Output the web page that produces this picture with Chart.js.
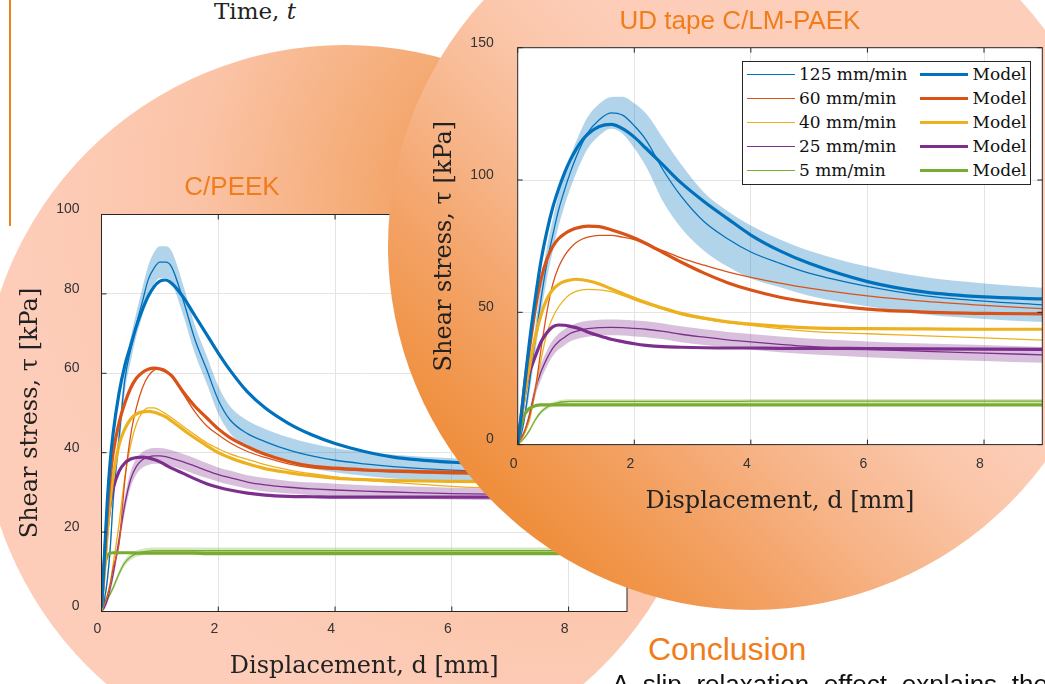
<!DOCTYPE html>
<html>
<head>
<meta charset="utf-8">
<script src="https://cdn.jsdelivr.net/npm/chart.js@4.4.1/dist/chart.umd.min.js"></script>
<style>
html, body { margin: 0; padding: 0; }
body { width: 1045px; height: 684px; position: relative; overflow: hidden; background: #fff; font-family: "Liberation Sans", Arial, sans-serif; }
.abs { position: absolute; }
#circL { left: -19px; top: 45px; width: 728px; height: 728px; border-radius: 50%; z-index: 1;
  background: radial-gradient(circle at 78% 22%, #f09142 0%, #f5ad79 25%, #fbc4a8 45%, #fdcdb9 65%); }
#circR { left: 388px; top: -118px; width: 728px; height: 728px; border-radius: 50%; z-index: 3;
  background: linear-gradient(45deg, #ec8430 0%, #ef8e3b 15%, #f3a163 27%, #f7b68b 38%, #fbc6aa 48%, #fdcdb8 56%, #fdd0bd 100%); }
#chartL { left: 0; top: 200px; z-index: 2; }
#chartR { left: 400px; top: 30px; z-index: 4; }
#bar { left: 9px; top: 0; width: 2px; height: 226px; background: #f07f1a; z-index: 5; }
.title { color: #ef7d1b; font-size: 26px; line-height: 26px; text-align: center; z-index: 5; white-space: nowrap; }
#time { left: 160px; top: 0; width: 190px; text-align: center; font-family: "DejaVu Serif", serif; font-size: 23px; line-height: 23px; color: #222; z-index: 5; }
#concl { left: 648px; top: 633px; font-size: 32px; line-height: 32px; color: #ef7d1b; z-index: 5; }
#body { left: 612px; top: 671px; width: 436px; font-size: 26px; line-height: 26px; color: #111; text-align: justify; text-align-last: justify; white-space: nowrap; z-index: 5; word-spacing: 6px; }
#legend { left: 742px; top: 61px; width: 289px; height: 124px; box-sizing: border-box; border: 1px solid #262626; background: #fff; z-index: 6; }
.lgLine { position: absolute; }
.lgText { position: absolute; font-family: "DejaVu Serif", serif; font-size: 17px; line-height: 17px; color: #111; white-space: nowrap; }
</style>
</head>
<body>
<div id="circL" class="abs"></div>
<canvas id="chartL" class="abs" width="640" height="484"></canvas>
<div id="circR" class="abs"></div>
<canvas id="chartR" class="abs" width="645" height="500"></canvas>
<div id="bar" class="abs"></div>
<div id="time" class="abs">Time, <i>t</i></div>
<div id="titleL" class="abs title" style="left:132px;top:173px;width:200px;">C/PEEK</div>
<div id="titleR" class="abs title" style="left:590px;top:7px;width:300px;">UD tape C/LM-PAEK</div>
<div id="legend" class="abs"></div>
<div id="concl" class="abs">Conclusion</div>
<div id="body" class="abs">A slip relaxation effect explains the</div>
<script>
// displacement grid shared by every curve [mm]
const dGrid = [0, 0.05, 0.1, 0.15, 0.2, 0.3, 0.4, 0.5, 0.6, 0.7, 0.8, 0.9, 1.0, 1.1, 1.2,
  1.4, 1.6, 1.8, 2.0, 2.2, 2.5, 2.8, 3.2, 3.6, 4.0, 4.5, 5.0, 6.0, 7.0, 8.0, 9.0];

const rateLabels = ['125 mm/min', '60 mm/min', '40 mm/min', '25 mm/min', '5 mm/min'];
const rateColors = ['#0072BD', '#D95319', '#EDB120', '#7E2F8E', '#77AC30'];
const bandColors = ['rgba(0,114,189,0.3)', null, null, 'rgba(126,47,142,0.3)', 'rgba(119,172,48,0.3)'];

// C/PEEK, shear stress [kPa]
const peekExp125 = [0, 3, 8, 16, 28, 43.5, 58.4, 66, 72.5, 78, 83.6, 86.5, 88, 88, 86.8,
  78.4, 68.5, 61, 53.3, 48.3, 44.8, 42.8, 40.7, 39.2, 38.1, 37.2, 36.5, 35.6, 35.2, 34.9, 34.7];
const peekModel125 = [1, 14, 28, 38, 45, 55, 62, 67, 72, 76, 79.4, 81.8, 83.2, 83.5, 82.7,
  79.2, 74.5, 69.8, 65.1, 60.8, 55.3, 51.3, 47.4, 44.5, 42.3, 40.3, 38.9, 37.6, 37, 36.7, 36.5];
const peekSpread125 = [0, 1, 1.5, 2, 2.5, 3, 3, 3, 3, 3.5, 3.5, 4, 4, 4, 4,
  3.8, 3.6, 3.5, 3.5, 3.4, 3.3, 3.2, 3.2, 3.1, 3, 3, 3, 3, 3, 3, 3];
const peekExp60 = [0, 2, 4, 7, 11, 17, 33, 44.5, 51.5, 56.3, 59.3, 60.8, 61.3, 60.8, 59.2,
  54.8, 50.3, 46.8, 44.5, 42.5, 40.3, 38.8, 37.2, 36.2, 35.8, 35.4, 35.1, 34.7, 34.5, 34.3, 34.2];
const peekModel60 = [1, 13, 25, 34, 40, 47.5, 52.5, 56.3, 58.8, 60.2, 61, 61.3, 61.1, 60.5, 59.4,
  55.3, 51.7, 48.8, 46, 43.8, 41.5, 39.6, 37.8, 36.6, 36.1, 35.7, 35.4, 35.1, 35, 34.9, 34.9];
const peekExp40 = [0, 2, 4, 7, 12, 22, 34, 42, 47.3, 50.2, 51.3, 51.3, 50.7, 49.8, 48.8,
  46.6, 44.5, 42.5, 41, 39.7, 38.3, 37, 35.7, 34.7, 33.9, 33.1, 32.5, 31.5, 30.8, 30.3, 29.9];
const peekModel40 = [1, 10, 20, 28, 34, 42, 46, 48.5, 49.8, 50.3, 50.4, 50.2, 49.7, 49, 48,
  45.8, 43.7, 41.8, 40, 38.7, 37.2, 36, 35, 34.2, 33.6, 33.2, 33, 32.8, 32.7, 32.7, 32.7];
const peekExp25 = [0, 1, 3, 6, 9.5, 18, 27, 33.3, 36.6, 38.2, 38.9, 39.2, 39.2, 39, 38.6,
  37.7, 36.6, 35.5, 34.5, 33.7, 32.6, 31.9, 31.3, 30.9, 30.6, 30.3, 30.1, 29.7, 29.5, 29.3, 29.2];
const peekModel25 = [2, 12, 21, 27, 31, 35.3, 37.4, 38.4, 38.8, 38.9, 38.7, 38.3, 37.7, 36.9, 36.1,
  34.8, 33.4, 32.2, 31.3, 30.6, 29.8, 29.3, 29, 28.9, 28.8, 28.8, 28.8, 28.8, 28.8, 28.8, 28.8];
const peekSpread25 = [0, 0.5, 1, 1.2, 1.5, 1.8, 2, 2, 2, 2, 2, 2, 2, 2, 2,
  2, 2, 1.9, 1.8, 1.8, 1.7, 1.7, 1.6, 1.6, 1.6, 1.5, 1.5, 1.5, 1.5, 1.5, 1.5];
const peekExp5 = [0, 1.5, 3, 4.5, 6, 9.5, 12.3, 13.8, 14.6, 15, 15.2, 15.3, 15.3, 15.3, 15.3,
  15.3, 15.3, 15.3, 15.3, 15.3, 15.3, 15.3, 15.3, 15.3, 15.3, 15.3, 15.3, 15.3, 15.3, 15.3, 15.3];
const peekModel5 = [0, 11, 14, 14.7, 14.8, 14.8, 14.8, 14.8, 14.7, 14.7, 14.7, 14.7, 14.7, 14.7, 14.7,
  14.7, 14.7, 14.6, 14.6, 14.6, 14.6, 14.6, 14.6, 14.6, 14.6, 14.6, 14.6, 14.6, 14.6, 14.6, 14.6];
const peekSpread5 = [0, 0.3, 0.5, 0.6, 0.7, 0.8, 0.8, 0.8, 0.8, 0.8, 0.8, 0.8, 0.8, 0.8, 0.8,
  0.8, 0.8, 0.8, 0.8, 0.8, 0.8, 0.8, 0.8, 0.8, 0.8, 0.8, 0.8, 0.8, 0.8, 0.8, 0.8];

// UD tape C/LM-PAEK, shear stress [kPa]
const udExp125 = [0, 3, 8, 15, 23, 39.5, 55, 68.5, 79, 88.5, 96, 102.7, 108.5, 113.5, 117.8,
  122.8, 125.4, 124.5, 120.5, 115.2, 103.6, 94, 84.2, 77.8, 72.8, 68.5, 64.8, 59.8, 56.2, 54.2, 52.8];
const udModel125 = [0, 9, 19, 29, 38.5, 55, 69.5, 80.5, 89.5, 96.5, 102.5, 107.5, 111.5, 114.8, 117.3,
  120.2, 121, 119.4, 116.2, 112, 105.5, 99, 91.8, 85.4, 79.2, 73.2, 68.5, 61.6, 57.6, 55.8, 55.1];
const udSpread125 = [0, 1, 2, 3, 4, 5, 5.5, 6, 6, 6, 6, 6, 6, 6, 6,
  6, 6, 7, 8.5, 10, 12, 12, 11, 10.5, 10, 9, 8.5, 7.5, 7, 6.7, 6.5];
const udExp60 = [0, 2, 4, 7, 10.5, 20.6, 36, 50, 60.5, 67, 71.2, 74.2, 76.3, 77.6, 78.4,
  79.1, 79.1, 78.4, 77.5, 75.7, 73.2, 70.6, 67.8, 65.3, 63.2, 61, 59.1, 56.2, 54.1, 52.6, 51.4];
const udModel60 = [0, 9, 19, 28.5, 36, 51, 62.5, 70, 74.8, 77.8, 79.6, 80.9, 81.8, 82.3, 82.6,
  82.4, 81.2, 79.8, 78.1, 76, 72.5, 69, 64.8, 61.2, 58.4, 55.7, 53.8, 51.2, 50.1, 49.6, 49.4];
const udExp40 = [0, 1.5, 3.5, 6, 9, 20, 32, 42, 48, 52, 54.8, 56.8, 57.9, 58.5, 58.7,
  58.5, 57.8, 56.4, 54.7, 53.2, 51.1, 49.1, 47.4, 46.1, 45.1, 43.8, 42.8, 41.9, 41.1, 40.3, 39.5];
const udModel40 = [0, 8, 16, 23, 29, 40.5, 49, 55, 58.5, 60.5, 61.6, 62.2, 62.5, 62.3, 61.9,
  60.7, 58.9, 57.1, 55.3, 53.7, 51.5, 49.6, 47.8, 46.4, 45.5, 44.7, 44.1, 43.8, 43.7, 43.6, 43.6];
const udExp25 = [0, 2, 4, 7, 11, 20.6, 27.5, 32.5, 36.4, 38.9, 40.5, 42, 42.8, 43.4, 43.8,
  44.2, 44.3, 44.2, 43.9, 43.6, 42.8, 41.7, 40.6, 39.6, 38.8, 37.9, 37.1, 36, 35.2, 34.6, 33.9];
const udModel25 = [0, 8, 16, 22.5, 27, 33.2, 38.8, 42.3, 44.5, 45.2, 45.1, 44.7, 44.2, 43.5, 42.6,
  41.1, 39.8, 38.9, 38.1, 37.5, 37, 36.8, 36.6, 36.5, 36.5, 36.4, 36.4, 36.3, 36.2, 36.1, 36];
const udSpread25 = [0, 0.5, 1, 1.5, 2, 2.5, 3, 3, 3, 3, 3, 3, 3, 3, 3,
  3, 3, 3, 3, 3, 3, 3, 3, 3, 3, 3, 3, 3, 3, 3, 3];
const udExp5 = [0, 1, 2.2, 3.6, 5.3, 9.3, 12.3, 14.1, 15.3, 15.9, 16.2, 16.3, 16.3, 16.3, 16.3,
  16.3, 16.3, 16.3, 16.3, 16.3, 16.3, 16.3, 16.3, 16.3, 16.4, 16.4, 16.4, 16.4, 16.4, 16.4, 16.4];
const udModel5 = [0, 6, 10.5, 12.4, 13.6, 14.7, 15, 15, 15, 15, 15, 15, 15, 15, 15,
  15, 15, 15, 15, 15, 15, 15, 15, 15, 15, 15, 15, 15, 15, 15, 15];
const udSpread5 = [0, 0.3, 0.5, 0.6, 0.7, 0.8, 0.8, 0.8, 0.8, 0.8, 0.8, 0.8, 0.8, 0.8, 0.8,
  0.8, 0.8, 0.8, 0.8, 0.8, 0.8, 0.8, 0.8, 0.8, 0.8, 0.8, 0.8, 0.8, 0.8, 0.8, 0.8];

const peekTicksY = [0, 20, 40, 60, 80, 100];
const udTicksY = [0, 50, 100, 150];
const ticksX = [0, 2, 4, 6, 8];

function pts(ys) {
    return ys.map((y, i) => ({ x: dGrid[i], y: y }));
}

function buildDatasets(exp, model, spread) {
    const ds = [];
    exp.forEach((e, i) => {
        if (spread[i]) {
            ds.push({ data: pts(e.map((v, j) => v + spread[i][j])), fill: '+1', backgroundColor: bandColors[i],
                borderWidth: 0, pointRadius: 0, cubicInterpolationMode: 'monotone', order: 3 });
            ds.push({ data: pts(e.map((v, j) => v - spread[i][j])), fill: false,
                borderWidth: 0, pointRadius: 0, cubicInterpolationMode: 'monotone', order: 3 });
        }
        ds.push({ label: rateLabels[i], data: pts(e), borderColor: rateColors[i], borderWidth: 1.3,
            pointRadius: 0, fill: false, cubicInterpolationMode: 'monotone', order: 2 });
        ds.push({ label: 'Model', data: pts(model[i]), borderColor: rateColors[i], borderWidth: 3.2,
            pointRadius: 0, fill: false, cubicInterpolationMode: 'monotone', order: 1 });
    });
    return ds;
}

// white plot area, MATLAB style box and inward ticks
const plotFrame = {
    id: 'plotFrame',
    beforeDraw(chart) {
        const { ctx, chartArea: a } = chart;
        ctx.save();
        ctx.fillStyle = '#fff';
        ctx.fillRect(a.left, a.top, a.width, a.height);
        ctx.restore();
    },
    afterDatasetsDraw(chart) {
        const { ctx, chartArea: a, scales } = chart;
        ctx.save();
        ctx.strokeStyle = '#262626';
        ctx.lineWidth = 1;
        ctx.strokeRect(a.left, a.top, a.width, a.height);
        ctx.beginPath();
        scales.x.ticks.forEach(t => {
            const px = scales.x.getPixelForValue(t.value);
            ctx.moveTo(px, a.bottom); ctx.lineTo(px, a.bottom - 5);
            ctx.moveTo(px, a.top); ctx.lineTo(px, a.top + 5);
        });
        scales.y.ticks.forEach(t => {
            const py = scales.y.getPixelForValue(t.value);
            ctx.moveTo(a.left, py); ctx.lineTo(a.left + 5, py);
            ctx.moveTo(a.right, py); ctx.lineTo(a.right - 5, py);
        });
        ctx.stroke();
        ctx.restore();
    }
};

function noPad(s) {
    s.paddingTop = 0; s.paddingBottom = 0; s.paddingLeft = 0; s.paddingRight = 0;
}

function makeChart(id, datasets, c) {
    return new Chart(document.getElementById(id).getContext('2d'), {
        type: 'line',
        data: { datasets: datasets },
        plugins: [plotFrame],
        options: {
            responsive: false,
            animation: false,
            devicePixelRatio: 1,
            layout: { padding: c.padding },
            plugins: { legend: { display: false }, tooltip: { enabled: false } },
            scales: {
                x: {
                    type: 'linear', min: 0, max: 9,
                    afterFit: s => { s.height = c.xHeight; noPad(s); },
                    afterBuildTicks: s => { s.ticks = ticksX.map(v => ({ value: v })); },
                    grid: { color: '#e4e4e4', drawTicks: false },
                    border: { display: false },
                    ticks: { font: { family: 'Liberation Sans', size: 14 }, color: '#333', padding: c.xTickPad,
                        labelOffset: -4, maxRotation: 0, autoSkip: false },
                    title: { display: true, text: 'Displacement, d [mm]', color: '#222',
                        font: { family: 'DejaVu Serif', size: 24 }, padding: { top: 0, bottom: c.xTitlePad } }
                },
                y: {
                    type: 'linear', min: 0, max: c.yMax,
                    afterFit: s => { s.width = c.yWidth; noPad(s); },
                    afterBuildTicks: s => { s.ticks = c.yTicks.map(v => ({ value: v })); },
                    grid: { color: '#e4e4e4', drawTicks: false },
                    border: { display: false },
                    ticks: { font: { family: 'Liberation Sans', size: 14 }, color: '#333', padding: c.yTickPad,
                        labelOffset: c.yLabelOffset },
                    title: { display: true, text: 'Shear stress, τ [kPa]', color: '#222',
                        font: { family: 'DejaVu Serif', size: 24 }, padding: { top: c.yTitlePad, bottom: 0 } }
                }
            }
        }
    });
}

const peekDatasets = buildDatasets(
    [peekExp125, peekExp60, peekExp40, peekExp25, peekExp5],
    [peekModel125, peekModel60, peekModel40, peekModel25, peekModel5],
    [peekSpread125, null, null, peekSpread25, peekSpread5]);

const udDatasets = buildDatasets(
    [udExp125, udExp60, udExp40, udExp25, udExp5],
    [udModel125, udModel60, udModel40, udModel25, udModel5],
    [udSpread125, null, null, udSpread25, udSpread5]);

makeChart('chartL', peekDatasets, {
    padding: { top: 14.5, right: 13, left: 0, bottom: 0 },
    xHeight: 72.5, yWidth: 101.5, yMax: 100, yTicks: peekTicksY,
    xTickPad: 9, xTitlePad: 2.6, yTitlePad: 16.6, yLabelOffset: -5, yTickPad: 22
});

makeChart('chartR', udDatasets, {
    padding: { top: 17.7, right: 2.7, left: 0, bottom: 0 },
    xHeight: 85.4, yWidth: 117.7, yMax: 150, yTicks: udTicksY,
    xTickPad: 11, xTitlePad: 13.5, yTitlePad: 30, yLabelOffset: -5, yTickPad: 24
});

// legend of the UD tape chart, two columns: experiment and model
const legend = document.getElementById('legend');
rateLabels.forEach((lab, i) => {
    const cy = 12.3 + 24 * i;
    const cols = [
        { x: 4, w: 48, lw: 1.5, tx: 56, text: lab },
        { x: 177, w: 48, lw: 3.5, tx: 229.5, text: 'Model' }
    ];
    cols.forEach(c => {
        const ln = document.createElement('div');
        ln.className = 'lgLine';
        ln.style.left = c.x + 'px';
        ln.style.width = c.w + 'px';
        ln.style.top = (cy - c.lw / 2) + 'px';
        ln.style.height = c.lw + 'px';
        ln.style.background = rateColors[i];
        legend.appendChild(ln);
        const tx = document.createElement('div');
        tx.className = 'lgText';
        tx.style.left = c.tx + 'px';
        tx.style.top = (cy - 8.5) + 'px';
        tx.textContent = c.text;
        legend.appendChild(tx);
    });
});
</script>
</body>
</html>
